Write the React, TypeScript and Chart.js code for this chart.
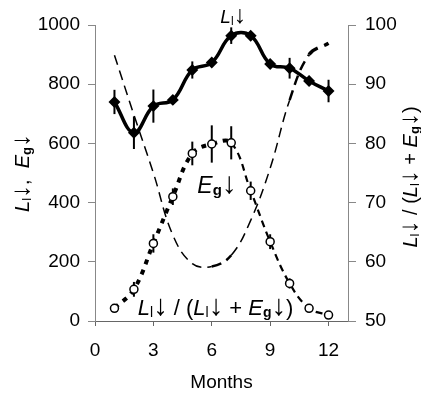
import React, { useEffect, useRef } from "react";
import { Chart, registerables } from "chart.js";

Chart.register(...registerables);

const months = [1, 2, 3, 4, 5, 6, 7, 8, 9, 10, 11, 12];
const lDown = [740, 636, 726, 747, 848, 873, 964, 964, 868, 854, 811, 777];
const lDownErr = [41, 55, 56, 16, 29, 12, 28, 10, 14, 35, 17, 38];
const egDown = [43, 107, 262, 420, 566, 598, 602, 440, 268, 127, 43, 20];
const egDownErr = [0, 25, 31, 28, 40, 63, 56, 31, 25, 17, 8, 0];
const ratio = [94.9, 84.8, 75, 64.5, 59.7, 59.2, 61.1, 67, 75.8, 87.3, 95, 96.9];
const xTicks = [0, 3, 6, 9, 12];

const FONT = "'Liberation Sans', Arial, sans-serif";

type Seg = { t: string; italic?: boolean; bold?: boolean; sub?: boolean; arrow?: boolean };

const segL: Seg[] = [{ t: "L", italic: true }, { t: "l", sub: true }, { t: "↓", arrow: true }];
const segE: Seg[] = [{ t: "E", italic: true }, { t: "g", sub: true, bold: true }, { t: "↓", arrow: true }];
const leftTitle: Seg[] = [...segL, { t: ",  " }, ...segE];
const ratioTitle: Seg[] = [...segL, { t: " / (" }, ...segL, { t: " + " }, ...segE, { t: ")" }];

function fontFor(s: Seg, size: number) {
  const sz = s.sub ? Math.round(size * 0.65) : s.arrow ? Math.round(size * 1.3) : size;
  return `${s.italic ? "italic " : ""}${s.bold ? "bold " : ""}${sz}px ${FONT}`;
}

function richWidth(ctx: CanvasRenderingContext2D, segs: Seg[], size: number) {
  let w = 0;
  for (const s of segs) {
    ctx.font = fontFor(s, size);
    w += ctx.measureText(s.t).width;
  }
  return w;
}

function drawRich(
  ctx: CanvasRenderingContext2D,
  segs: Seg[],
  x: number,
  y: number,
  size: number,
  align: "left" | "center"
) {
  const total = richWidth(ctx, segs, size);
  let cx = align === "center" ? x - total / 2 : x;
  ctx.textBaseline = "alphabetic";
  ctx.textAlign = "left";
  ctx.fillStyle = "#000";
  for (const s of segs) {
    ctx.font = fontFor(s, size);
    ctx.fillText(s.t, cx, s.sub ? y + size * 0.08 : y);
    cx += ctx.measureText(s.t).width;
  }
}

const overlayPlugin = {
  id: "overlay",
  beforeDatasetsDraw(chart: any) {
    const ctx = chart.ctx as CanvasRenderingContext2D;
    const xs = chart.scales.x;
    const ys = chart.scales.y;
    ctx.save();
    ctx.strokeStyle = "#000";
    ctx.lineWidth = 2;
    months.forEach((m, i) => {
      const px = xs.getPixelForValue(m);
      if (lDownErr[i] > 0) {
        ctx.beginPath();
        ctx.moveTo(px, ys.getPixelForValue(lDown[i] + lDownErr[i]));
        ctx.lineTo(px, ys.getPixelForValue(lDown[i] - lDownErr[i]));
        ctx.stroke();
      }
      if (egDownErr[i] > 0) {
        ctx.beginPath();
        ctx.moveTo(px, ys.getPixelForValue(egDown[i] + egDownErr[i]));
        ctx.lineTo(px, ys.getPixelForValue(egDown[i] - egDownErr[i]));
        ctx.stroke();
      }
    });
    ctx.restore();
  },
  afterDraw(chart: any) {
    const ctx = chart.ctx as CanvasRenderingContext2D;
    const xs = chart.scales.x;
    const ys = chart.scales.y;
    const area = chart.chartArea;
    ctx.save();
    // in-plot labels
    drawRich(ctx, segL, xs.getPixelForValue(7.1), ys.getPixelForValue(1006), 19, "center");
    drawRich(ctx, segE, xs.getPixelForValue(5.26), ys.getPixelForValue(432), 23, "left");
    drawRich(ctx, ratioTitle, xs.getPixelForValue(2.2), ys.getPixelForValue(20), 22, "left");
    // left axis title
    const midY = (area.top + area.bottom) / 2;
    ctx.save();
    ctx.translate(29, midY);
    ctx.rotate(-Math.PI / 2);
    drawRich(ctx, leftTitle, 0, 0, 20, "center");
    ctx.restore();
    // right axis title
    ctx.save();
    ctx.translate(417, midY + 4);
    ctx.rotate(-Math.PI / 2);
    drawRich(ctx, ratioTitle, 0, 0, 20, "center");
    ctx.restore();
    ctx.restore();
  },
};

export default function App() {
  const ref = useRef<HTMLCanvasElement>(null);
  useEffect(() => {
    if (!ref.current) return;
    Chart.defaults.font.family = FONT;
    Chart.defaults.color = "#000";
    const chart = new Chart(ref.current, {
      type: "line",
      data: {
        datasets: [
          {
            label: "L",
            data: months.map((m, i) => ({ x: m, y: lDown[i] })),
            borderColor: "#000",
            backgroundColor: "#000",
            borderWidth: 3.5,
            tension: 0.4,
            pointStyle: "rectRot",
            pointRadius: 3.5,
            pointBackgroundColor: "#000",
            pointBorderColor: "#000",
            yAxisID: "y",
          },
          {
            label: "E",
            data: months.map((m, i) => ({ x: m, y: egDown[i] })),
            borderColor: "#000",
            borderWidth: 2.5,
            tension: 0.4,
            pointStyle: "circle",
            pointRadius: 4,
            pointBorderWidth: 1.5,
            pointBackgroundColor: "#fff",
            pointBorderColor: "#000",
            yAxisID: "y",
            segment: {
              borderWidth: (c: any) => (c.p0DataIndex < 6 ? 4 : 2.2),
              borderDash: (c: any) => (c.p0DataIndex < 6 ? [5, 6] : [7, 5]),
            },
          },
          {
            label: "R",
            data: months.map((m, i) => ({ x: m, y: ratio[i] })),
            borderColor: "#000",
            borderWidth: 1.5,
            borderDash: [10, 6],
            tension: 0.4,
            pointRadius: 0,
            yAxisID: "y1",
            segment: {
              borderWidth: (c: any) => (c.p0DataIndex >= 10 ? 3.5 : c.p0DataIndex === 5 || c.p0DataIndex === 9 ? 2.5 : 1.5),
              borderDash: (c: any) => (c.p0DataIndex >= 10 ? [11, 7] : [10, 6]),
            },
          },
        ],
      },
      options: {
        responsive: false,
        animation: false,
        devicePixelRatio: 1,
        layout: { padding: { top: 25, left: 0, right: 0, bottom: 0 } },
        plugins: { legend: { display: false }, tooltip: { enabled: false } },
        scales: {
          x: {
            type: "linear",
            min: 0,
            max: 13,
            afterBuildTicks: (axis: any) => {
              axis.ticks = xTicks.map((v) => ({ value: v }));
            },
            afterFit: (s: any) => {
              s.height = 78;
            },
            grid: { drawOnChartArea: false, tickLength: 5, color: "#666" },
            border: { color: "#666", width: 1 },
            ticks: { font: { size: 19 }, padding: 13, color: "#000", callback: (v: any) => String(v) },
            title: { display: true, text: "Months", font: { size: 19 }, color: "#000", padding: { top: 0, bottom: 5 } },
          },
          y: {
            position: "left",
            min: 0,
            max: 1000,
            ticks: { stepSize: 200, font: { size: 19 }, padding: 8, color: "#000", callback: (v: any) => String(v) },
            afterFit: (s: any) => {
              s.width = 95;
            },
            grid: { drawOnChartArea: false, tickLength: 7, color: "#888" },
            border: { color: "#888", width: 1 },
          },
          y1: {
            position: "right",
            min: 50,
            max: 100,
            ticks: { stepSize: 10, font: { size: 19 }, padding: 9, color: "#000", callback: (v: any) => String(v) },
            afterFit: (s: any) => {
              s.width = 73;
            },
            grid: { drawOnChartArea: false, tickLength: 8, color: "#888" },
            border: { color: "#888", width: 1 },
          },
        },
      },
      plugins: [overlayPlugin],
    } as any);
    return () => chart.destroy();
  }, []);
  return (
    <div style={{ position: "absolute", left: 0, top: 0, width: 421, height: 399, background: "#fff" }}>
      <canvas ref={ref} width={421} height={399} />
    </div>
  );
}
